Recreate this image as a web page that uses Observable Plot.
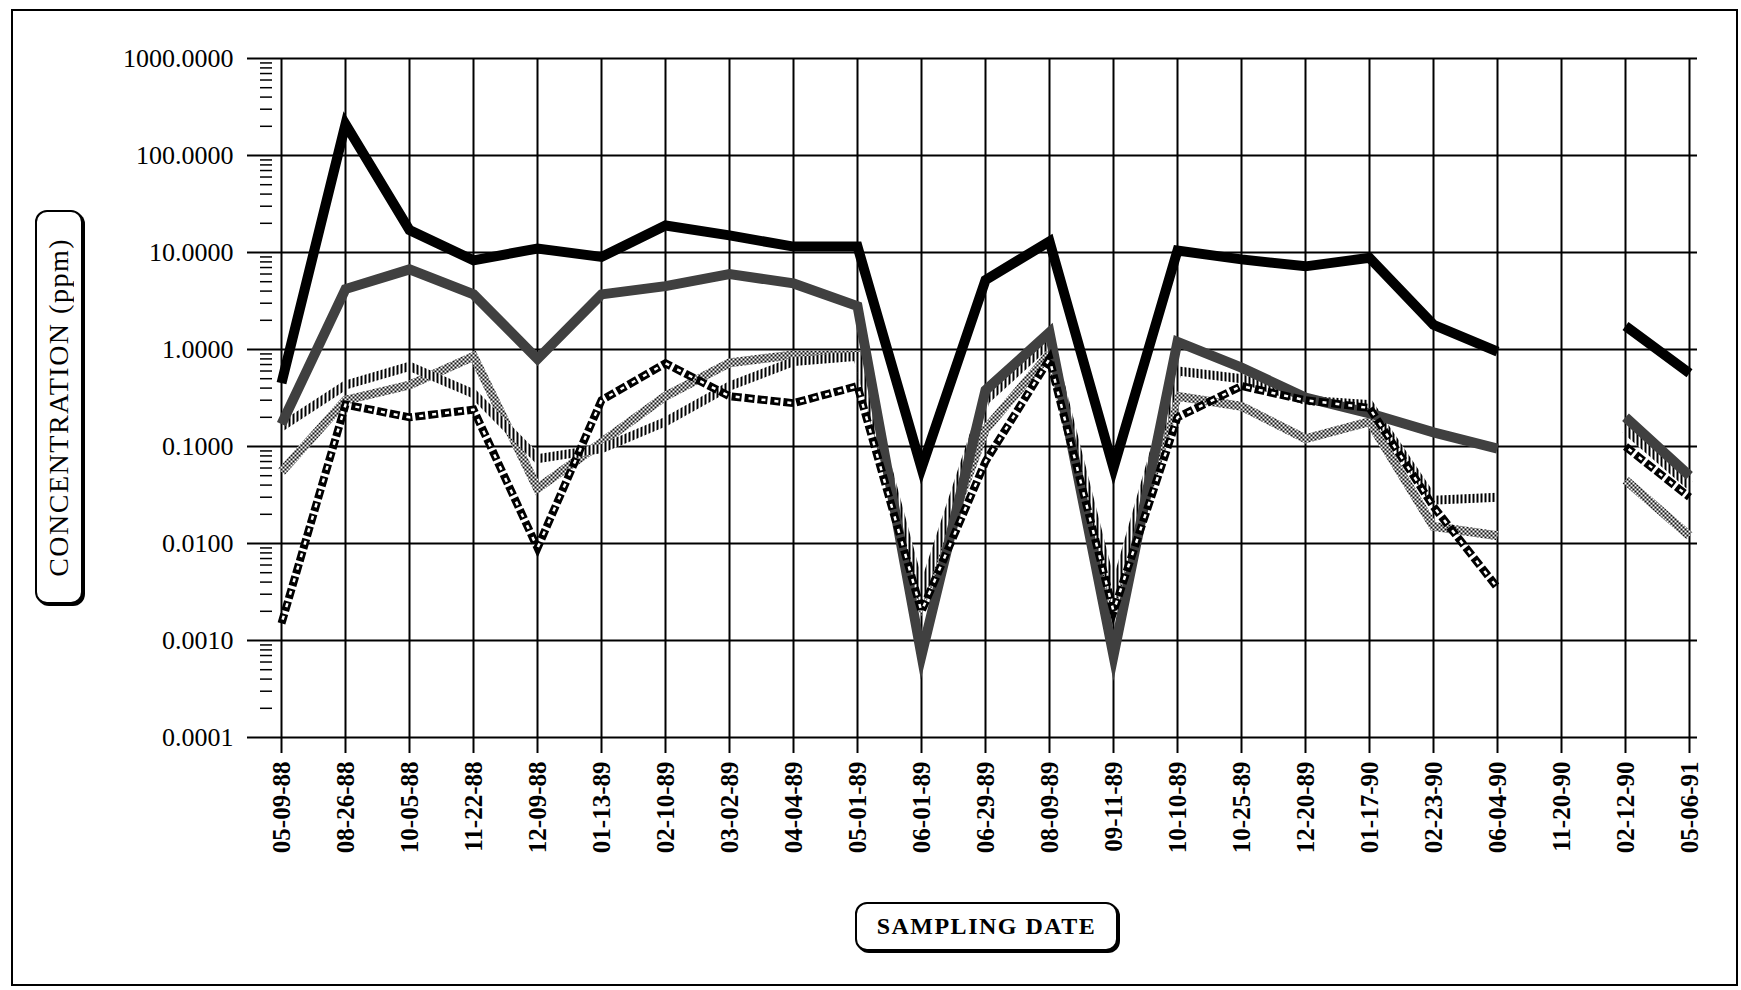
<!DOCTYPE html>
<html>
<head>
<meta charset="utf-8">
<script src="https://cdn.jsdelivr.net/npm/d3@7"></script>
<script src="https://cdn.jsdelivr.net/npm/@observablehq/plot@0.6"></script>
<style>
  html, body { margin: 0; padding: 0; background: #fff; }
  body { width: 1741px; height: 990px; position: relative; overflow: hidden; font-family: "Liberation Serif", "DejaVu Serif", serif; }
  #chart { position: absolute; left: 0; top: 0; }
  .outer { position: absolute; left: 11px; top: 9px; width: 1723px; height: 973px; border: 2px solid #000; pointer-events: none; }
  .ytitle { position: absolute; left: 35px; top: 210px; width: 44px; height: 390px; border: 2px solid #000; border-radius: 12px; box-shadow: 2px 2px 0 #000; background: #fff;
            display: flex; align-items: center; justify-content: center; }
  .ytitle span { writing-mode: vertical-rl; transform: rotate(180deg); font-size: 28px; letter-spacing: 1.5px; white-space: nowrap; color: #000; }
  .xtitle { position: absolute; left: 855px; top: 902px; width: 259px; height: 45px; border: 2px solid #000; border-radius: 12px; box-shadow: 2px 2px 0 #000; background: #fff;
            display: flex; align-items: center; justify-content: center; font-size: 24px; font-weight: bold; letter-spacing: 1.5px; color: #000; white-space: nowrap; }
</style>
</head>
<body>
<div id="chart"></div>
<div class="outer"></div>
<div class="ytitle"><span>CONCENTRATION (ppm)</span></div>
<div class="xtitle">SAMPLING DATE</div>
<script>
// Sampling dates (category axis, as labelled on the chart)
const dates = ["05-09-88","08-26-88","10-05-88","11-22-88","12-09-88","01-13-89","02-10-89","03-02-89","04-04-89","05-01-89","06-01-89","06-29-89","08-09-89","09-11-89","10-10-89","10-25-89","12-20-89","01-17-90","02-23-90","06-04-90","11-20-90","02-12-90","05-06-91"];

// Y axis tick values (ppm, log scale)
const yTicks = [0.0001, 0.001, 0.01, 0.1, 1, 10, 100, 1000];

// Series values (ppm); null = no sample
const seriesSolid   = [0.45, 210, 17, 8.3, 11, 9, 19, 15, 11.5, 11.5, 0.06, 5.2, 13, 0.06, 10.5, 8.5, 7.2, 8.8, 1.8, 0.95, null, 1.75, 0.57];
const seriesDark    = [0.17, 4.2, 6.7, 3.7, 0.8, 3.7, 4.5, 6.0, 4.8, 2.8, 0.0007, 0.38, 1.5, 0.0007, 1.2, 0.65, 0.32, 0.22, 0.14, 0.095, null, 0.2, 0.05];
const seriesVert    = [0.16, 0.43, 0.67, 0.35, 0.075, 0.095, 0.18, 0.42, 0.75, 0.85, 0.003, 0.3, 1.2, 0.003, 0.6, 0.5, 0.3, 0.27, 0.028, 0.03, null, 0.15, 0.04];
const seriesLight   = [0.055, 0.3, 0.43, 0.85, 0.037, 0.11, 0.33, 0.73, 0.88, 0.88, 0.0025, 0.15, 0.9, 0.0025, 0.33, 0.26, 0.12, 0.18, 0.015, 0.012, null, 0.045, 0.012];
const seriesDashed  = [0.0015, 0.27, 0.2, 0.24, 0.009, 0.3, 0.72, 0.33, 0.28, 0.42, 0.002, 0.07, 0.8, 0.002, 0.2, 0.42, 0.3, 0.25, 0.024, 0.0035, null, 0.1, 0.03];

const rows = (vals) => dates.map((d, i) => ({date: d, ppm: vals[i]}));

// minor log ticks (2..9 within each decade)
const minorTicks = [];
for (let e = -4; e < 3; e++) for (let m = 2; m <= 9; m++) minorTicks.push(m * Math.pow(10, e));

const lineOpts = (label, stroke, width, extra = {}) => Object.assign({
  x: "date", y: "ppm", stroke, strokeWidth: width,
  strokeLinejoin: "miter", strokeLinecap: "butt", strokeMiterlimit: 6, ariaDescription: label
}, extra);

const svg = Plot.plot({
  width: 1741,
  height: 990,
  marginLeft: 272,
  marginRight: 44,
  marginTop: 58,
  marginBottom: 253,
  style: {background: "transparent", fontFamily: "'Liberation Serif', serif", color: "#000"},
  x: {type: "point", domain: dates, padding: 0},
  y: {type: "log", domain: [0.0001, 1000]},
  marks: [
    Plot.gridY(yTicks, {stroke: "#000", strokeOpacity: 1, strokeWidth: 2}),
    Plot.gridX(dates, {stroke: "#000", strokeOpacity: 1, strokeWidth: 2}),
    Plot.axisY({ticks: minorTicks, tickSize: 12, tickFormat: () => "", strokeWidth: 1.5, label: null}),
    Plot.axisY({ticks: yTicks, tickSize: 25, tickPadding: 14, strokeWidth: 2,
                tickFormat: d => d.toFixed(4), fontSize: 26, label: null}),
    Plot.axisX({ticks: dates, tickSize: 16, tickPadding: 8, tickRotate: -90, strokeWidth: 2,
                fontSize: 25, fontWeight: "bold", label: null}),
    Plot.line(rows(seriesLight), lineOpts("light", "#777", 9)),
    Plot.line(rows(seriesVert), lineOpts("vert", "#555", 9)),
    Plot.line(rows(seriesDark), lineOpts("dark", "#333", 10)),
    Plot.line(rows(seriesDashed), lineOpts("dashed", "#000", 8, {strokeDasharray: "10 3"})),
    Plot.line(rows(seriesDashed), lineOpts("dashed-inner", "#fff", 2.5, {strokeDasharray: "4 9", strokeDashoffset: -4})),
    Plot.line(rows(seriesSolid), lineOpts("solid", "#000", 10))
  ]
});

// hatch patterns to imitate the monochrome line fills of the original
const sel = d3.select(svg);
const defs = sel.insert("defs", ":first-child");
const p1 = defs.append("pattern").attr("id", "patDark").attr("patternUnits", "userSpaceOnUse").attr("width", 4).attr("height", 4);
p1.append("rect").attr("width", 4).attr("height", 4).attr("fill", "#000");
[[1,1],[3,3],[3,1],[1,3]].forEach(([x, y]) => p1.append("rect").attr("x", x).attr("y", y).attr("width", 1).attr("height", 1).attr("fill", "#fff"));
const p2 = defs.append("pattern").attr("id", "patLight").attr("patternUnits", "userSpaceOnUse").attr("width", 4).attr("height", 4);
p2.append("rect").attr("width", 4).attr("height", 4).attr("fill", "#fff");
p2.append("rect").attr("width", 2).attr("height", 2).attr("fill", "#111");
p2.append("rect").attr("x", 2).attr("y", 2).attr("width", 2).attr("height", 2).attr("fill", "#111");
const p3 = defs.append("pattern").attr("id", "patVert").attr("patternUnits", "userSpaceOnUse").attr("width", 4).attr("height", 4);
p3.append("rect").attr("width", 4).attr("height", 4).attr("fill", "#fff");
p3.append("rect").attr("width", 2).attr("height", 4).attr("fill", "#000");

const setPattern = (desc, id) => {
  sel.selectAll("g").filter(function() { return this.getAttribute("aria-description") === desc; })
    .attr("stroke", `url(#${id})`)
    .selectAll("path").attr("stroke", `url(#${id})`);
};
setPattern("dark", "patDark");
setPattern("light", "patLight");
setPattern("vert", "patVert");

document.getElementById("chart").appendChild(svg);
</script>
</body>
</html>
